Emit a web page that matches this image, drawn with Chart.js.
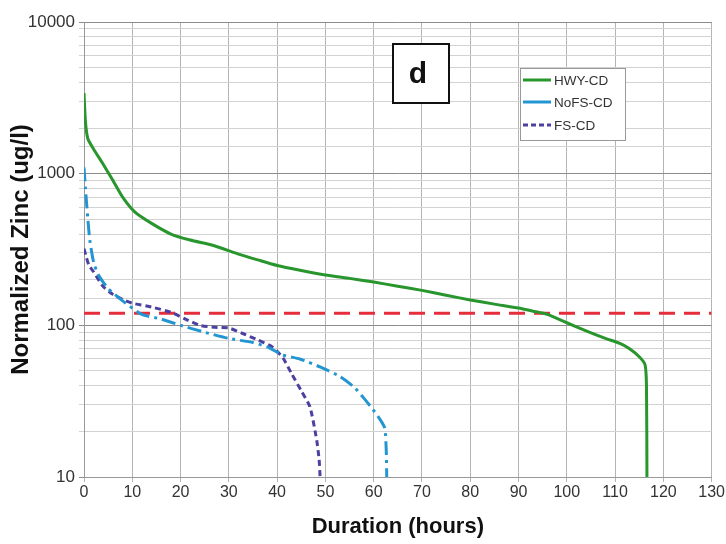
<!DOCTYPE html>
<html>
<head>
<meta charset="utf-8">
<script src="https://cdn.jsdelivr.net/npm/chart.js@4"></script>
<style>
  html, body { margin: 0; padding: 0; background: #fff; }
  #wrap { position: relative; width: 726px; height: 544px; }
</style>
</head>
<body>
<div id="wrap"><canvas id="zincChart" width="726" height="544"></canvas></div>
<script>
// datos (horas, ug/l)
var hwyHours = [0, 0.3, 0.8, 2, 4, 6, 8, 10.5, 14, 18, 22, 27, 32, 36, 40, 45, 50, 55, 60, 65, 70, 75, 80, 85, 90, 93, 96, 100, 104, 108, 111, 113, 115, 116.2, 116.5, 116.6];
var hwyZinc = [3400, 2200, 1700, 1450, 1150, 900, 700, 560, 470, 400, 365, 335, 295, 270, 248, 230, 215, 204, 193, 181, 170, 158, 147, 138, 130, 124, 118, 104, 92, 82, 76, 70, 62, 55, 40, 10];

var nofsHours = [0, 0.3, 0.8, 1.2, 2, 3, 5, 8, 12, 16, 20, 25, 30, 35, 38, 41, 44.7, 49, 53, 56, 58, 59.8, 61.3, 62.3, 62.6, 62.7];
var nofsZinc = [1100, 800, 500, 365, 260, 215, 175, 145, 118, 110, 100, 90, 82, 77, 72, 64, 60, 53, 46, 39, 33, 28, 24, 21, 15, 10];

var fsHours = [0, 0.5, 1, 2, 4, 6, 8, 10, 14, 18, 21, 24, 27, 30, 33, 36, 39, 41.2, 43, 45, 46.8, 48.2, 48.7, 48.9];
var fsZinc = [320, 280, 250, 225, 180, 160, 148, 140, 132, 122, 110, 100, 97, 96, 88, 80, 72, 61, 48, 37, 29, 17.5, 13, 10];

var thresholdHours = [0, 130];
var thresholdZinc = [120, 120];

var seriesNames = ['HWY-CD', 'NoFS-CD', 'FS-CD'];
var yTickLabels = [10, 100, 1000, 10000];

var fontFam = '"Liberation Sans", Arial, sans-serif';

function toPoints(xs, ys) {
    var pts = [];
    for (var i = 0; i < xs.length; i++) {
        pts.push({ x: xs[i], y: ys[i] });
    }
    return pts;
}

// recuadro con la letra "d"
var panelLabel = {
    id: 'panelLabel',
    afterDraw: function (chart) {
        var ctx = chart.ctx;
        ctx.save();
        ctx.fillStyle = '#fff';
        ctx.fillRect(393, 44, 56, 59);
        ctx.strokeStyle = '#111';
        ctx.lineWidth = 2;
        ctx.strokeRect(393, 44, 56, 59);
        ctx.fillStyle = '#111';
        ctx.font = 'bold 30px ' + fontFam;
        ctx.textAlign = 'center';
        ctx.textBaseline = 'middle';
        ctx.fillText('d', 418, 75);
        ctx.restore();
    }
};

// leyenda dentro del area del grafico
var boxLegend = {
    id: 'boxLegend',
    afterDraw: function (chart) {
        var ctx = chart.ctx;
        ctx.save();
        ctx.fillStyle = '#fff';
        ctx.fillRect(520, 68, 105, 72);
        ctx.strokeStyle = '#999';
        ctx.lineWidth = 1;
        ctx.strokeRect(520.5, 68.5, 105, 72);
        ctx.font = '13.5px ' + fontFam;
        ctx.textBaseline = 'middle';
        var rows = [80, 102, 125];
        for (var i = 0; i < 3; i++) {
            var ds = chart.data.datasets[i];
            ctx.strokeStyle = ds.borderColor;
            ctx.lineWidth = 3;
            ctx.setLineDash(i === 2 ? [5, 3] : []);
            ctx.beginPath();
            ctx.moveTo(523, rows[i]);
            ctx.lineTo(551, rows[i]);
            ctx.stroke();
            ctx.setLineDash([]);
            ctx.fillStyle = '#333';
            ctx.fillText(seriesNames[i], 554, rows[i] + 1);
        }
        ctx.restore();
    }
};

var ctx = document.getElementById('zincChart').getContext('2d');
var chart = new Chart(ctx, {
    type: 'scatter',
    data: {
        datasets: [{
            label: seriesNames[0],
            data: toPoints(hwyHours, hwyZinc),
            showLine: true,
            borderColor: 'rgb(40,150,45)',
            borderWidth: 3,
            pointRadius: 0,
            tension: 0.2
        }, {
            label: seriesNames[1],
            data: toPoints(nofsHours, nofsZinc),
            showLine: true,
            borderColor: 'rgb(35,150,210)',
            borderWidth: 3,
            borderDash: [14, 5, 3, 5],
            pointRadius: 0,
            tension: 0.2
        }, {
            label: seriesNames[2],
            data: toPoints(fsHours, fsZinc),
            showLine: true,
            borderColor: 'rgb(75,65,160)',
            borderWidth: 3,
            borderDash: [6, 4],
            pointRadius: 0,
            tension: 0.2
        }, {
            label: 'threshold',
            data: toPoints(thresholdHours, thresholdZinc),
            showLine: true,
            borderColor: 'rgb(230,45,60)',
            borderWidth: 3,
            borderDash: [16, 9],
            pointRadius: 0
        }]
    },
    options: {
        responsive: false,
        animation: false,
        layout: { padding: { top: 22, right: 14, left: 0, bottom: 0 } },
        plugins: {
            legend: { display: false },
            tooltip: { enabled: false }
        },
        scales: {
            x: {
                type: 'linear',
                min: 0,
                max: 130,
                afterFit: function (scale) { scale.height = 67; },
                ticks: {
                    stepSize: 10,
                    color: '#333',
                    padding: 1,
                    font: { size: 16, family: fontFam }
                },
                grid: { color: '#b4b4b4', tickLength: 5 },
                border: { color: '#999' },
                title: {
                    display: true,
                    text: 'Duration (hours)',
                    color: '#111',
                    padding: { top: 0, bottom: 4 },
                    font: { size: 22, weight: 'bold', family: fontFam }
                }
            },
            y: {
                type: 'logarithmic',
                min: 10,
                max: 10000,
                afterFit: function (scale) { scale.width = 84; },
                ticks: {
                    autoSkip: false,
                    color: '#333',
                    padding: 4,
                    font: { size: 17, family: fontFam },
                    callback: function (value) {
                        return yTickLabels.indexOf(value) >= 0 ? String(value) : '';
                    }
                },
                grid: {
                    tickLength: 5,
                    color: function (c) {
                        return yTickLabels.indexOf(c.tick && c.tick.value) >= 0 ? '#8c8c8c' : '#d2d2d2';
                    }
                },
                border: { color: '#999' },
                title: {
                    display: true,
                    text: 'Normalized Zinc (ug/l)',
                    color: '#111',
                    padding: { top: 7, bottom: 0 },
                    font: { size: 24, weight: 'bold', family: fontFam }
                }
            }
        }
    },
    plugins: [panelLabel, boxLegend]
});
</script>
</body>
</html>
